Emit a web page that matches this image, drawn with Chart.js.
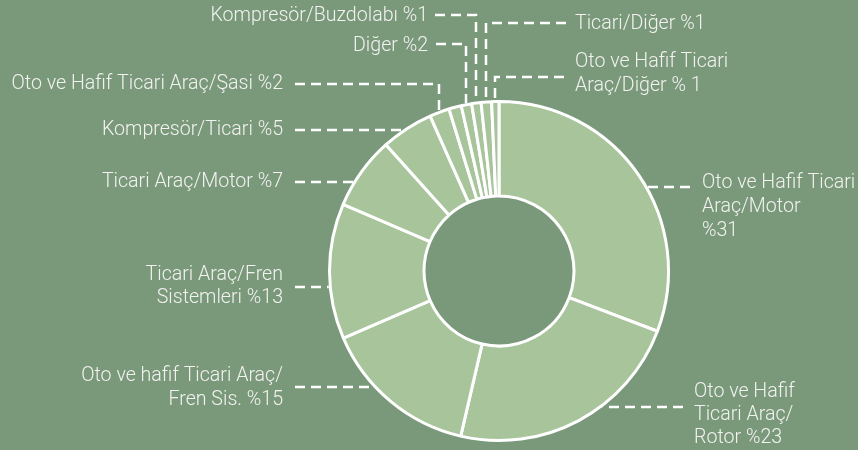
<!DOCTYPE html>
<html>
<head>
<meta charset="utf-8">
<script src="https://cdn.jsdelivr.net/npm/chart.js@4/dist/chart.umd.min.js"></script>
<style>
html,body{margin:0;padding:0;background:#7a997a;}
#wrap{width:858px;height:450px;position:relative;}
</style>
</head>
<body>
<div id="wrap"><canvas id="c" width="858" height="450"></canvas></div>
<script>
// ---- data ----
const categories = [
  ["Oto ve Hafif Ticari", "Araç/Motor", "%31"],
  ["Oto ve Hafif", "Ticari Araç/", "Rotor %23"],
  ["Oto ve hafif Ticari Araç/", "Fren Sis. %15"],
  ["Ticari Araç/Fren", "Sistemleri %13"],
  ["Ticari Araç/Motor %7"],
  ["Kompresör/Ticari %5"],
  ["Oto ve Hafif Ticari Araç/Şasi %2"],
  [],
  ["Diğer %2"],
  ["Kompresör/Buzdolabı %1"],
  ["Ticari/Diğer %1"],
  ["Oto ve Hafif Ticari", "Araç/Diğer % 1"]
];
const values = [31, 23, 15, 13, 7, 5, 1.9, 1.2, 1.0, 0.9, 1.0, 0.7];

// ---- label layout (positions only) ----
const labelLayout = [
  {side:'R', x:702, lineY:[183,207,231], leadY:187, leadX:690, elbow:false},
  {side:'R', x:694, lineY:[392,415,438], leadY:407, leadX:683, elbow:false},
  {side:'L', x:283, lineY:[376,400], leadY:387, leadX:295, elbow:false},
  {side:'L', x:283, lineY:[275,298], leadY:287, leadX:295, elbow:false},
  {side:'L', x:283, lineY:[182], leadY:182, leadX:295, elbow:false},
  {side:'L', x:283, lineY:[130], leadY:130, leadX:295, elbow:false},
  {side:'L', x:283, lineY:[84], leadY:84, leadX:295, elbow:true},
  null,
  {side:'L', x:428, lineY:[46], leadY:44, leadX:436, elbow:true},
  {side:'L', x:428, lineY:[16], leadY:15, leadX:435, elbow:true},
  {side:'R', x:575, lineY:[24], leadY:23, leadX:566, elbow:true},
  {side:'R', x:575, lineY:[62,86], leadY:77, leadX:564, elbow:true}
];

const BG = '#7a997a';
const SLICE = '#a7c49b';

const labelPlugin = {
  id: 'labelPlugin',
  beforeDraw(chart) {
    const ctx = chart.ctx;
    ctx.save();
    ctx.fillStyle = BG;
    ctx.fillRect(0, 0, chart.width, chart.height);
    ctx.restore();
  },
  afterDraw(chart) {
    const ctx = chart.ctx;
    const meta = chart.getDatasetMeta(0);
    ctx.save();
    ctx.font = '300 19.6px Roboto';
    ctx.fillStyle = '#f2f2f0';
    ctx.strokeStyle = '#ffffff';
    ctx.lineWidth = 2.5;
    ctx.textBaseline = 'middle';
    labelLayout.forEach((lay, i) => {
      if (!lay) return;
      const arc = meta.data[i];
      const p = arc.getProps(['x','y','startAngle','endAngle','outerRadius'], true);
      const cx = p.x, cy = p.y, r = p.outerRadius + 1.5;
      ctx.textAlign = lay.side === 'L' ? 'right' : 'left';
      categories[i].forEach((t, k) => ctx.fillText(t, lay.x, lay.lineY[k]));
      ctx.setLineDash([10, 6]);
      ctx.beginPath();
      ctx.moveTo(lay.leadX, lay.leadY);
      if (lay.elbow) {
        const mid = (p.startAngle + p.endAngle) / 2;
        const ex = Math.round(cx + r * Math.cos(mid));
        const ey = cy + r * Math.sin(mid);
        ctx.lineTo(ex, lay.leadY);
        ctx.lineTo(ex, ey);
      } else {
        const dy = lay.leadY - cy;
        const dx = Math.sqrt(Math.max(r * r - dy * dy, 0));
        const ex = lay.side === 'L' ? cx - dx : cx + dx;
        ctx.lineTo(ex, lay.leadY);
      }
      ctx.stroke();
    });
    ctx.restore();
  }
};

new Chart(document.getElementById('c'), {
  type: 'doughnut',
  data: {
    labels: categories.map(c => c.join(' ')),
    datasets: [{
      data: values,
      backgroundColor: SLICE,
      borderColor: '#ffffff',
      borderWidth: 3,
      hoverOffset: 0
    }]
  },
  options: {
    responsive: false,
    animation: false,
    cutout: 75,
    layout: { padding: { top: 100, bottom: 8, left: 328, right: 188 } },
    plugins: { legend: { display: false }, tooltip: { enabled: false } }
  },
  plugins: [labelPlugin]
});
</script>
</body>
</html>
